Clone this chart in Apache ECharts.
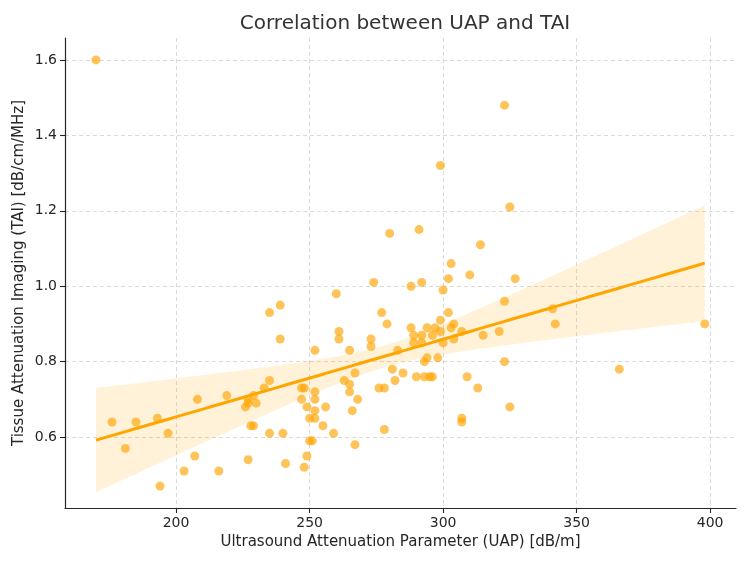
<!DOCTYPE html>
<html>
<head>
<meta charset="utf-8">
<title>Correlation between UAP and TAI</title>
<script src="https://cdn.jsdelivr.net/npm/echarts@6/dist/echarts.min.js"></script>
<style>
  html, body { margin: 0; padding: 0; background: #fff; }
  #chart { width: 750px; height: 563px; }
</style>
</head>
<body>
<div id="chart"></div>
<script>
// UAP [dB/m] and TAI [dB/cm/MHz]
const uap = [
  170, 176, 181, 185, 193, 194, 197, 203, 207, 208, 216, 219,
  226, 227, 227, 227, 228, 229, 229, 230, 233, 235, 235, 235,
  239, 239, 240, 241, 247, 248, 247, 248, 249, 249, 250, 250,
  251, 252, 252, 252, 252, 252, 255, 256, 259, 260, 261, 261,
  263, 265, 265, 265, 266, 267, 267, 268, 273, 273, 274, 276,
  277, 278, 278, 279, 280, 281, 282, 283, 285, 288, 288, 289,
  289, 290, 291, 292, 292, 292, 293, 293, 294, 294, 295, 296,
  296, 297, 298, 299, 299, 299, 300, 300, 302, 302, 303, 303,
  304, 304, 307, 307, 307, 309, 310, 313, 314, 315, 321, 323,
  323, 323, 325, 325, 327, 341, 342, 366, 398
];
const tai = [
  1.60, 0.64, 0.57, 0.64, 0.65, 0.47, 0.61, 0.51, 0.55, 0.70, 0.51, 0.71,
  0.68, 0.69, 0.70, 0.54, 0.63, 0.63, 0.71, 0.69, 0.73, 0.75, 0.93, 0.61,
  0.95, 0.86, 0.61, 0.53, 0.73, 0.73, 0.70, 0.52, 0.68, 0.55, 0.65, 0.59,
  0.59, 0.83, 0.72, 0.70, 0.67, 0.65, 0.63, 0.68, 0.61, 0.98, 0.88, 0.86,
  0.75, 0.83, 0.74, 0.72, 0.67, 0.77, 0.58, 0.70, 0.86, 0.84, 1.01, 0.73,
  0.93, 0.73, 0.62, 0.90, 1.14, 0.78, 0.75, 0.83, 0.77, 1.00, 0.89, 0.87,
  0.85, 0.76, 1.15, 1.01, 0.87, 0.85, 0.80, 0.76, 0.81, 0.89, 0.76, 0.87,
  0.76, 0.89, 0.81, 1.32, 0.91, 0.88, 0.99, 0.85, 1.02, 0.93, 1.06, 0.89,
  0.90, 0.86, 0.88, 0.65, 0.64, 0.76, 1.03, 0.73, 1.11, 0.87, 0.88, 1.48,
  0.96, 0.80, 1.21, 0.68, 1.02, 0.94, 0.90, 0.78, 0.90
];

const xTicks = [200, 250, 300, 350, 400];
const yTicks = [0.6, 0.8, 1.0, 1.2, 1.4, 1.6];

const titleText = 'Correlation between UAP and TAI';
const xName = 'Ultrasound Attenuation Parameter (UAP) [dB/m]';
const yName = 'Tissue Attenuation Imaging (TAI) [dB/cm/MHz]';

// least squares fit + 95% band (heteroskedasticity-robust SE)
function fitLine(xs, ys) {
  const n = xs.length;
  let sx = 0, sy = 0, sxx = 0, sxy = 0;
  for (let i = 0; i < n; i++) {
    sx += xs[i]; sy += ys[i];
    sxx += xs[i] * xs[i]; sxy += xs[i] * ys[i];
  }
  const b = (n * sxy - sx * sy) / (n * sxx - sx * sx);
  const a = (sy - b * sx) / n;
  // (X'X)^-1
  const det = n * sxx - sx * sx;
  const A = [[sxx / det, -sx / det], [-sx / det, n / det]];
  let m00 = 0, m01 = 0, m11 = 0;
  for (let i = 0; i < n; i++) {
    const e = ys[i] - (a + b * xs[i]);
    const e2 = e * e;
    m00 += e2; m01 += e2 * xs[i]; m11 += e2 * xs[i] * xs[i];
  }
  const M = [[m00, m01], [m01, m11]];
  const mul = (P, Q) => [
    [P[0][0] * Q[0][0] + P[0][1] * Q[1][0], P[0][0] * Q[0][1] + P[0][1] * Q[1][1]],
    [P[1][0] * Q[0][0] + P[1][1] * Q[1][0], P[1][0] * Q[0][1] + P[1][1] * Q[1][1]]
  ];
  const V = mul(mul(A, M), A);
  const k = n / (n - 2);
  return { a, b, V, k };
}

const fit = fitLine(uap, tai);
const xMin = Math.min(...uap), xMax = Math.max(...uap);
const steps = 100;
const linePts = [];
const bandPts = [];
for (let i = 0; i <= steps; i++) {
  const x = xMin + (xMax - xMin) * i / steps;
  const yhat = fit.a + fit.b * x;
  const v = fit.k * (fit.V[0][0] + 2 * x * fit.V[0][1] + x * x * fit.V[1][1]);
  const h = 1.98 * Math.sqrt(v);
  linePts.push([x, yhat]);
  bandPts.push([x, yhat - h, yhat + h]);
}

const chart = echarts.init(document.getElementById('chart'));
const font = 'DejaVu Sans';
const ink = '#262626';

chart.setOption({
  animation: false,
  title: {
    text: titleText,
    left: 400,
    top: 9,
    textAlign: 'center',
    textStyle: { fontFamily: font, fontSize: 20, fontWeight: 'normal', color: '#333' }
  },
  grid: { left: 65, right: 14, top: 38, bottom: 55, containLabel: false, outerBoundsMode: 'none' },
  xAxis: {
    type: 'value',
    min: 158.4,
    max: 409.7,
    name: xName,
    nameLocation: 'middle',
    nameGap: 27,
    nameTextStyle: { fontFamily: font, fontSize: 15, color: ink },
    axisLine: { show: true, lineStyle: { color: ink, width: 1.2 } },
    axisTick: { show: true, length: 5, customValues: xTicks, lineStyle: { color: ink, width: 1.1 } },
    axisLabel: { customValues: xTicks, fontFamily: font, fontSize: 14, color: ink, margin: 8 },
    splitLine: { show: true, lineStyle: { type: [4, 3], color: '#cfcfcf', width: 0.8 } }
  },
  yAxis: {
    type: 'value',
    min: 0.412,
    max: 1.658,
    name: yName,
    nameLocation: 'middle',
    nameRotate: 90,
    nameGap: 38,
    nameMoveOverlap: false,
    nameTextStyle: { fontFamily: font, fontSize: 15, color: ink },
    axisLine: { show: true, lineStyle: { color: ink, width: 1.2 } },
    axisTick: { show: true, length: 5, customValues: yTicks, lineStyle: { color: ink, width: 1.1 } },
    axisLabel: {
      customValues: yTicks, fontFamily: font, fontSize: 14, color: ink, margin: 8,
      formatter: v => v.toFixed(1)
    },
    splitLine: { show: true, lineStyle: { type: [4, 3], color: '#cfcfcf', width: 0.8 } }
  },
  series: [
    {
      type: 'custom',
      z: 1,
      clip: true,
      data: [0],
      renderItem: function (params, api) {
        const upper = bandPts.map(p => api.coord([p[0], p[2]]));
        const lower = bandPts.slice().reverse().map(p => api.coord([p[0], p[1]]));
        return {
          type: 'polygon',
          shape: { points: upper.concat(lower) },
          style: { fill: 'rgba(255,165,0,0.15)', stroke: 'none' }
        };
      },
      silent: true
    },
    {
      type: 'scatter',
      z: 2,
      symbolSize: 9,
      data: uap.map((x, i) => [x, tai[i]]),
      itemStyle: { color: '#FFA500', opacity: 0.65 }
    },
    {
      type: 'line',
      z: 3,
      data: linePts,
      showSymbol: false,
      symbol: 'none',
      lineStyle: { color: '#FFA500', width: 3 }
    }
  ]
});
</script>
</body>
</html>
